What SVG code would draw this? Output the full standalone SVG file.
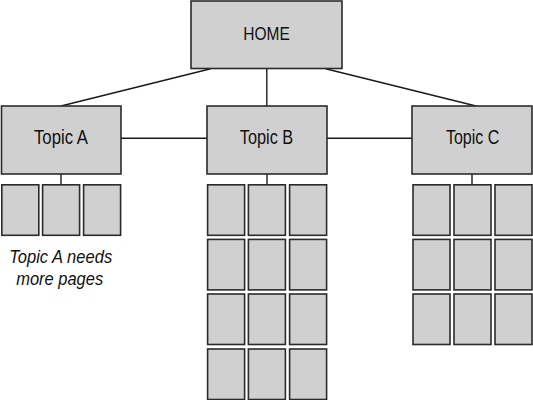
<svg xmlns="http://www.w3.org/2000/svg" xmlns:xlink="http://www.w3.org/1999/xlink" width="533" height="400" viewBox="0 0 533 400">
<style>
.box{fill:#d0d0d0;stroke:#2b2b2b;stroke-width:1.6}
.page{fill:#d0d0d0;stroke:#2b2b2b;stroke-width:1.6}
.lbl{font-family:"Liberation Sans",Arial,sans-serif;font-size:19px;fill:#111;text-anchor:middle}
.tp{font-size:19.5px}
.note{font-family:"Liberation Sans",Arial,sans-serif;font-size:19px;font-style:italic;fill:#111;text-anchor:middle}
.con{stroke:#1a1a1a;stroke-width:1.4;fill:none}
</style>
<defs>
<rect id="pg" class="page" x="0" y="0" width="37" height="50.5"/>
</defs>
<rect width="533" height="400" fill="#fff"/>
<g id="connectors">
<line class="con" x1="210.7" y1="68.7" x2="61" y2="106"/>
<line class="con" x1="266.8" y1="68.7" x2="266.8" y2="106"/>
<line class="con" x1="325.6" y1="68.7" x2="476" y2="106"/>
<line class="con" x1="121" y1="138.3" x2="207" y2="138.3"/>
<line class="con" x1="327" y1="138.3" x2="412" y2="138.3"/>
<line class="con" x1="61" y1="174" x2="61" y2="184"/>
<line class="con" x1="267" y1="174" x2="267" y2="184"/>
<line class="con" x1="472" y1="174" x2="472" y2="184"/>
</g>
<g id="home">
<rect class="box" x="191" y="1" width="151" height="67.5"/>
<text class="lbl" x="266.5" y="39.5" textLength="46.5" lengthAdjust="spacingAndGlyphs">HOME</text>
</g>
<g id="topicA">
<rect class="box" x="1.5" y="106" width="119.5" height="68"/>
<text class="lbl tp" x="61" y="143.5" textLength="54" lengthAdjust="spacingAndGlyphs">Topic A</text>
</g>
<g id="topicB">
<rect class="box" x="207" y="106" width="120" height="68"/>
<text class="lbl tp" x="266.5" y="143.5" textLength="53.4" lengthAdjust="spacingAndGlyphs">Topic B</text>
</g>
<g id="topicC">
<rect class="box" x="412" y="106" width="120" height="68"/>
<text class="lbl tp" x="472.6" y="143.5" textLength="53.4" lengthAdjust="spacingAndGlyphs">Topic C</text>
</g>
<g id="pagesA">
<use xlink:href="#pg" x="1.8" y="184.8"/>
<use xlink:href="#pg" x="42.6" y="184.8"/>
<use xlink:href="#pg" x="83.6" y="184.8"/>
</g>
<g id="pagesB">
<use xlink:href="#pg" x="207.6" y="184.8"/>
<use xlink:href="#pg" x="248.4" y="184.8"/>
<use xlink:href="#pg" x="289.6" y="184.8"/>
<use xlink:href="#pg" x="207.6" y="239.4"/>
<use xlink:href="#pg" x="248.4" y="239.4"/>
<use xlink:href="#pg" x="289.6" y="239.4"/>
<use xlink:href="#pg" x="207.6" y="294"/>
<use xlink:href="#pg" x="248.4" y="294"/>
<use xlink:href="#pg" x="289.6" y="294"/>
<use xlink:href="#pg" x="207.6" y="349"/>
<use xlink:href="#pg" x="248.4" y="349"/>
<use xlink:href="#pg" x="289.6" y="349"/>
</g>
<g id="pagesC">
<use xlink:href="#pg" x="413" y="184.8"/>
<use xlink:href="#pg" x="454" y="184.8"/>
<use xlink:href="#pg" x="495" y="184.8"/>
<use xlink:href="#pg" x="413" y="239.4"/>
<use xlink:href="#pg" x="454" y="239.4"/>
<use xlink:href="#pg" x="495" y="239.4"/>
<use xlink:href="#pg" x="413" y="294"/>
<use xlink:href="#pg" x="454" y="294"/>
<use xlink:href="#pg" x="495" y="294"/>
</g>
<g id="note">
<text class="note" x="60.7" y="263" textLength="103" lengthAdjust="spacingAndGlyphs">Topic A needs</text>
<text class="note" x="59.7" y="285" textLength="87" lengthAdjust="spacingAndGlyphs">more pages</text>
</g>
</svg>
